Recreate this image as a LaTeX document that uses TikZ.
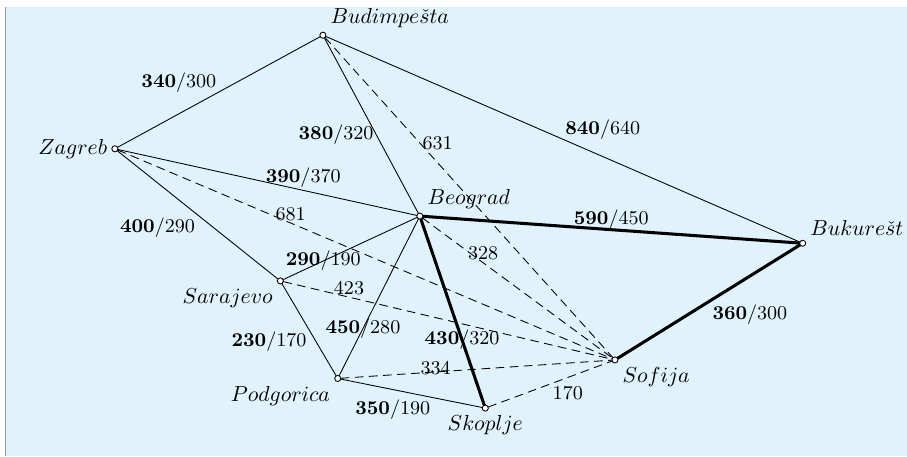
\documentclass[tikz,border=0pt]{standalone}
\usepackage{tikz}
\usetikzlibrary{positioning}
\definecolor{bgblue}{RGB}{224,242,251}
\definecolor{framegray}{RGB}{150,150,150}
\tikzset{
  city/.style={
    draw,
    circle,
    fill=white,
    minimum size=2.8pt,
    inner sep=0pt,
    outer sep=0pt
  },
  road/.style={line width=0.4pt},
  route/.style={line width=1.4pt},
  air/.style={line width=0.4pt,dash pattern=on 4pt off 2.5pt},
  cost/.style={font=\small,inner sep=1pt}
}
\newcommand{\km}[2]{$\mathbf{#1}/#2$}

\begin{document}
\begin{tikzpicture}

	\useasboundingbox (0,0) rectangle (14.69,7.39);
	\fill[bgblue] (0.1,0) rectangle (14.69,7.27);
	\draw[framegray,line width=0.5pt] (0.09,0) -- (0.09,7.27);

	% cities
	\node[city] (budimpesta) at (5.23,6.82) {};
	\node[city] (zagreb) at (1.86,4.98) {};
	\node[city] (beograd) at (6.80,3.89) {};
	\node[city] (bukurest) at (13.00,3.45) {};
	\node[city] (sarajevo) at (4.54,2.84) {};
	\node[city] (podgorica) at (5.47,1.26) {};
	\node[city] (skoplje) at (7.86,0.78) {};
	\node[city] (sofija) at (9.96,1.56) {};

	\node[above right] (budimpesta_name) at (budimpesta) {$Budimpe\check{s}ta$};
	\node[left] (zagreb_name) at (zagreb) {$Zagreb$};
	\node[above right] (beograd_name) at (beograd) {$Beograd$};
	\node[above right] (bukurest_name) at (bukurest) {$Bukure\check{s}t$};
	\node[below left] (sarajevo_name) at (sarajevo) {$Sarajevo$};
	\node[below left] (podgorica_name) at (podgorica) {$Podgorica$};
	\node[below] (skoplje_name) at (skoplje) {$Skoplje$};
	\node[below right] (sofija_name) at (sofija) {$Sofija$};

	% roads
	\draw[road] (zagreb) -- (budimpesta) node[cost, midway, above left, yshift=-1.5pt] (zb) {\km{340}{300}};
	\draw[road] (budimpesta) -- (beograd) node[cost, pos=0.55, left] (bb) {\km{380}{320}};
	\draw[road] (zagreb) -- (beograd) node[cost, pos=0.62, above] (zbg) {\km{390}{370}};
	\draw[road] (budimpesta) -- (bukurest) node[cost, midway, above right, yshift=-1.5pt] (bbu) {\km{840}{640}};
	\draw[road] (zagreb) -- (sarajevo) node[cost, midway, below left] (zs) {\km{400}{290}};
	\draw[road] (sarajevo) -- (beograd) node[cost, pos=0.3] (sb) {\km{290}{190}};
	\draw[road] (sarajevo) -- (podgorica) node[cost, midway, below left] (sp) {\km{230}{170}};
	\draw[road] (podgorica) -- (beograd) node[cost, pos=0.3] (pb) {\km{450}{280}};
	\draw[road] (podgorica) -- (skoplje) node[cost, pos=0.65, below left] (ps) {\km{350}{190}};

	% chosen route
	\draw[route] (beograd) -- (bukurest) node[cost, midway, above, yshift=-1.5pt] (bgbu) {\km{590}{450}};
	\draw[route] (beograd) -- (skoplje) node[cost, pos=0.65] (bgs) {\km{430}{320}};
	\draw[route] (sofija) -- (bukurest) node[cost, midway, below right] (sfbu) {\km{360}{300}};

	% air distances to Sofija
	\draw[air] (budimpesta) -- (sofija) node[cost, pos=0.33, right] (bsf) {631};
	\draw[air] (zagreb) -- (sofija) node[cost, pos=0.35, above] (zsf) {681};
	\draw[air] (sarajevo) -- (sofija) node[cost, pos=0.2, above] (ssf) {423};
	\draw[air] (beograd) -- (sofija) node[cost, pos=0.32, above] (bgsf) {328};
	\draw[air] (podgorica) -- (sofija) node[cost, pos=0.35, above, yshift=-2.5pt] (psf) {334};
	\draw[air] (skoplje) -- (sofija) node[cost, midway, below right] (sksf) {170};

\end{tikzpicture}
\end{document}
